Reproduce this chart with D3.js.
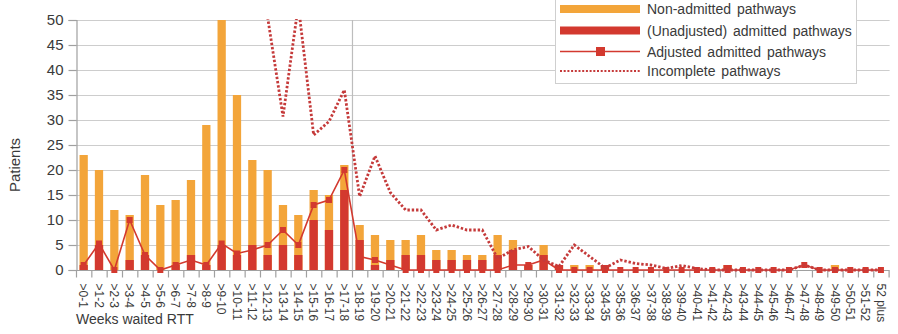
<!DOCTYPE html>
<html><head><meta charset="utf-8">
<script src="https://cdn.jsdelivr.net/npm/d3@7"></script>
<style>
body{margin:0;background:#fff;}
text{font-family:"Liberation Sans",Arial,sans-serif;fill:#3a3a3a;}
</style></head>
<body><svg id="c" width="898" height="334"></svg>
<script>
const categories = [">0-1",">1-2",">2-3",">3-4",">4-5",">5-6",">6-7",">7-8",">8-9",">9-10",">10-11",">11-12",">12-13",">13-14",">14-15",">15-16",">16-17",">17-18",">18-19",">19-20",">20-21",">21-22",">22-23",">23-24",">24-25",">25-26",">26-27",">27-28",">28-29",">29-30",">30-31",">31-32",">32-33",">33-34",">34-35",">35-36",">36-37",">37-38",">38-39",">39-40",">40-41",">41-42",">42-43",">43-44",">44-45",">45-46",">46-47",">47-48",">48-49",">49-50",">50-51",">51-52","52 plus"];
// total height of each stacked bar (non-admitted + unadjusted admitted)
const totalPathways = [23,20,12,11,19,13,14,18,29,50,35,22,20,13,11,16,15,21,9,7,6,6,7,4,4,3,3,7,6,1,5,1,1,1,1,0,0,0,0,0,0,0,1,0,0,0,0,0,0,1,0,0,0];
const unadjustedAdmitted = [1,5,0,2,3,0,1,3,1,5,3,5,3,5,3,10,8,16,6,1,2,3,3,2,2,2,2,3,4,1,3,1,0,0,1,0,0,0,0,0,0,0,1,0,0,0,0,0,0,0,0,0,0];
const nonAdmitted = totalPathways.map((t,i)=>t-unadjustedAdmitted[i]);
const adjustedAdmitted = [1,5.3,0,10,3,0,1,2,1,5.3,3.3,4,5,8,5,13,14,20,2.7,2,1,0,0,0,0,0,0,0,1,1,2,0,0,0,0,0,0,0,0,0,0,0,0,0,0,0,0,1,0,0,0,0,0];
// first values are above the 50 axis maximum (off-scale, estimated)
const incomplete = [70,75,80,85,85,80,78,75,72,68,64,58,50.5,30.7,53,27,29.7,36,14.7,22.8,15.5,12,12,8,9,8,8,2.3,4,4.7,2,0.7,5,2.7,0.4,2,1.3,1,0.3,0.9,0.3,0,0,0,0,0,0,1,0,0,0,0,0];
const yTicks = [0,5,10,15,20,25,30,35,40,45,50];
const legendItems = ["Non-admitted pathways","(Unadjusted) admitted pathways","Adjusted admitted pathways","Incomplete pathways"];

const ORANGE="#f3a53a", RED="#d3392f", DOT="#c53a3a", GRID="#cdcdcd", AX="#a0a0a0";
const svg = d3.select("#c");
const L=76, R=888.6, T=20, B=270;
const x = d3.scaleBand().domain(categories).range([L,R]).paddingInner(0.46).paddingOuter(0.23);
const xb = d3.scaleBand().domain(categories).range([L,R]);
const y = d3.scaleLinear().domain([0,50]).range([B,T]);

svg.append("defs").append("clipPath").attr("id","pc").append("rect")
  .attr("x",L).attr("y",T-1).attr("width",R-L+2).attr("height",B-T+3);

// grid
svg.append("g").selectAll("line").data(yTicks.filter(d=>d>0)).join("line")
  .attr("x1",L).attr("x2",R+1).attr("y1",d=>y(d)+0.5).attr("y2",d=>y(d)+0.5)
  .attr("stroke",GRID).attr("stroke-width",1.2);

// y axis
const ya = svg.append("g").attr("transform",`translate(${L+0.5},0)`)
  .call(d3.axisLeft(y).tickValues(yTicks).tickSize(8).tickPadding(5));
ya.select(".domain").attr("stroke",AX).attr("stroke-width",1.2);
ya.selectAll(".tick line").attr("stroke",AX).attr("stroke-width",1.2);
ya.selectAll(".tick text").attr("font-size",15).attr("fill","#3a3a3a").attr("font-family","Liberation Sans, Arial, sans-serif");

// 18-week marker line
svg.append("line").attr("x1",xb(">18-19")+0.5).attr("x2",xb(">18-19")+0.5)
  .attr("y1",T).attr("y2",B).attr("stroke","#bdbdbd").attr("stroke-width",1.2);

// bars
svg.append("g").selectAll("rect").data(categories).join("rect")
  .attr("x",d=>x(d)).attr("width",x.bandwidth())
  .attr("y",(d,i)=>y(nonAdmitted[i]+unadjustedAdmitted[i]))
  .attr("height",(d,i)=>y(0)-y(nonAdmitted[i]+unadjustedAdmitted[i]))
  .attr("fill",ORANGE);
svg.append("g").selectAll("rect").data(categories).join("rect")
  .attr("x",d=>x(d)).attr("width",x.bandwidth())
  .attr("y",(d,i)=>y(unadjustedAdmitted[i]))
  .attr("height",(d,i)=>y(0)-y(unadjustedAdmitted[i]))
  .attr("fill",RED);

// x axis
const xa = svg.append("g").attr("transform",`translate(0,${B+0.5})`);
xa.append("line").attr("x1",L).attr("x2",R+1).attr("stroke",AX).attr("stroke-width",1.2);
xa.selectAll(".tk").data(categories.concat(["__end"])).join("line").attr("class","tk")
  .attr("x1",(d,i)=>L+i*xb.bandwidth()+0.5).attr("x2",(d,i)=>L+i*xb.bandwidth()+0.5)
  .attr("y1",0).attr("y2",7).attr("stroke",AX).attr("stroke-width",1.2);
xa.selectAll("text").data(categories).join("text")
  .attr("transform",d=>`translate(${xb(d)+xb.bandwidth()/2},13) rotate(90)`)
  .attr("dy","0.35em").attr("font-size",12).text(d=>d);

// adjusted line
const cx = d=>xb(d)+xb.bandwidth()/2;
const lineAdj = d3.line().x((d,i)=>cx(categories[i])).y(d=>y(d));
svg.append("path").datum(adjustedAdmitted).attr("d",lineAdj)
  .attr("fill","none").attr("stroke",RED).attr("stroke-width",1.6);
svg.append("g").selectAll("rect").data(adjustedAdmitted).join("rect")
  .attr("x",(d,i)=>cx(categories[i])-3).attr("y",d=>y(d)-3)
  .attr("width",6).attr("height",6).attr("fill",RED);

// incomplete dotted
svg.append("g").attr("clip-path","url(#pc)").append("path").datum(incomplete).attr("d",lineAdj)
  .attr("fill","none").attr("stroke",DOT).attr("stroke-width",2.8).attr("stroke-dasharray","2.4,1.9");

// legend
const lg = svg.append("g");
lg.append("rect").attr("x",555.5).attr("y",-5).attr("width",301).attr("height",88.5)
  .attr("fill","#fff").attr("stroke","#cfcfcf").attr("stroke-width",1);
const rowsY=[9,30.5,51.5,71];
lg.append("rect").attr("x",560).attr("y",rowsY[0]-4).attr("width",80).attr("height",8).attr("fill",ORANGE);
lg.append("rect").attr("x",560).attr("y",rowsY[1]-4).attr("width",80).attr("height",8).attr("fill",RED);
lg.append("line").attr("x1",560).attr("x2",640).attr("y1",rowsY[2]).attr("y2",rowsY[2]).attr("stroke",RED).attr("stroke-width",1.6);
lg.append("rect").attr("x",596).attr("y",rowsY[2]-4.5).attr("width",9).attr("height",9).attr("fill",RED);
lg.append("line").attr("x1",560).attr("x2",640).attr("y1",rowsY[3]).attr("y2",rowsY[3]).attr("stroke",DOT).attr("stroke-width",2.2).attr("stroke-dasharray","2,1.7");
lg.selectAll("text").data(legendItems).join("text")
  .attr("x",647).attr("y",(d,i)=>rowsY[i]).attr("dy","0.36em")
  .attr("font-size",14).attr("word-spacing",2).text(d=>d);

// axis titles
svg.append("text").attr("transform","translate(20,165) rotate(-90)").attr("text-anchor","middle")
  .attr("font-size",15).text("Patients");
svg.append("text").attr("x",76).attr("y",324).attr("font-size",14).text("Weeks waited RTT");
</script></body></html>
